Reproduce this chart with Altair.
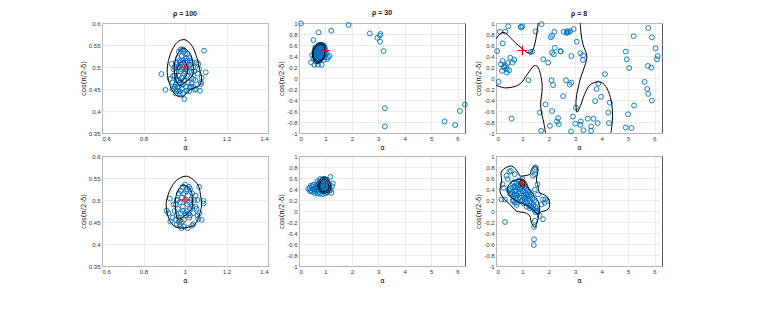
import altair as alt
import pandas as pd

# ---------------- data ----------------
titles = ["ρ = 100", "ρ = 30", "ρ = 8", "", "", ""]

ticks_a_small = [0.6, 0.8, 1, 1.2, 1.4]
ticks_c_small = [0.35, 0.4, 0.45, 0.5, 0.55, 0.6]
ticks_a_wide = [0, 1, 2, 3, 4, 5, 6]
ticks_c_wide = [-1, -0.8, -0.6, -0.4, -0.2, 0, 0.2, 0.4, 0.6, 0.8, 1]

true_alpha = [1.0]
true_cos = [0.5]

# panel 1 (rho = 100, top)
p1_alpha = [0.886, 1.092, 1.100, 0.906, 0.997, 1.072, 1.048, 1.077, 1.080, 1.068, 1.064, 1.000, 0.980, 0.935,
            0.927, 0.943, 0.951, 0.967, 0.975, 0.990, 1.008, 1.024, 1.032, 1.040, 1.032, 1.040, 1.024, 1.056,
            1.053, 1.076,
            0.96, 0.97, 0.975, 0.98, 0.985, 0.99, 0.995, 1.0, 1.005, 1.01, 1.015, 1.02, 0.965, 0.955, 0.97,
            0.96, 0.95, 0.945, 0.955, 0.965, 0.975, 0.985, 0.99, 1.0, 1.01, 1.02, 1.025, 1.03, 1.005, 0.985,
            0.975, 0.96, 0.95, 0.94, 0.97, 0.995, 1.01, 0.98, 0.99, 0.97, 0.98, 0.995, 1.015, 1.035, 1.045,
            1.05, 1.04, 0.95, 0.96, 0.985, 0.975, 1.0, 1.005, 0.99, 0.98, 1.06, 0.955, 0.94, 1.02, 1.03]
p1_cos = [0.484, 0.537, 0.488, 0.448, 0.427, 0.446, 0.448, 0.465, 0.476, 0.495, 0.507, 0.530, 0.511, 0.507,
          0.473, 0.480, 0.454, 0.446, 0.440, 0.440, 0.446, 0.454, 0.462, 0.473, 0.488, 0.499, 0.514, 0.510,
          0.450, 0.461,
          0.47, 0.48, 0.465, 0.49, 0.475, 0.50, 0.485, 0.51, 0.495, 0.515, 0.50, 0.52, 0.455, 0.46, 0.50,
          0.49, 0.48, 0.495, 0.51, 0.52, 0.515, 0.525, 0.46, 0.47, 0.48, 0.49, 0.505, 0.475, 0.455, 0.45,
          0.445, 0.445, 0.455, 0.465, 0.535, 0.535, 0.53, 0.505, 0.515, 0.47, 0.46, 0.47, 0.465, 0.51, 0.49,
          0.47, 0.455, 0.50, 0.505, 0.495, 0.50, 0.49, 0.52, 0.54, 0.54, 0.485, 0.44, 0.45, 0.445, 0.455]

# panel 2 (rho = 30, top)
p2_alpha = [0.076, 1.88, 1.22, 0.736, 0.545, 2.68, 3.085, 3.06, 2.97, 3.07, 3.2, 3.25, 3.25, 5.51, 5.91,
            6.09, 6.28,
            0.457, 0.58, 0.72, 0.86, 1.066, 1.16, 0.59, 0.9, 0.5, 0.55, 0.65, 1.05, 1.1, 0.62, 0.75, 0.95,
            0.60, 0.62, 0.64, 0.66, 0.68, 0.70, 0.72, 0.74, 0.76, 0.78, 0.80, 0.82, 0.84, 0.86, 0.88, 0.90,
            0.92, 0.94, 0.96, 0.98, 0.65, 0.70, 0.75, 0.80, 0.85, 0.90, 0.68, 0.72, 0.78, 0.84, 0.88, 0.92,
            0.96, 0.58, 0.60, 0.63, 0.67, 0.73, 0.77, 0.81, 0.85, 0.89, 0.93, 0.97, 0.83, 0.79, 0.71, 0.69,
            0.75, 0.87, 0.91, 0.95, 0.64, 0.62, 0.74, 0.82, 0.86, 0.99]
p2_cos = [0.99, 0.964, 0.86, 0.83, 0.69, 0.81, 0.80, 0.77, 0.73, 0.66, 0.49, -0.55, -0.88, -0.79, -0.855,
          -0.6, -0.48,
          0.285, 0.24, 0.24, 0.24, 0.345, 0.40, 0.5, 0.58, 0.42, 0.35, 0.3, 0.45, 0.38, 0.56, 0.6, 0.33,
          0.40, 0.45, 0.35, 0.42, 0.48, 0.38, 0.44, 0.52, 0.34, 0.46, 0.40, 0.55, 0.48, 0.42, 0.52, 0.46,
          0.56, 0.50, 0.44, 0.52, 0.50, 0.55, 0.58, 0.60, 0.60, 0.60, 0.32, 0.30, 0.32, 0.36, 0.38, 0.40,
          0.38, 0.44, 0.50, 0.54, 0.38, 0.40, 0.50, 0.45, 0.52, 0.44, 0.48, 0.56, 0.58, 0.54, 0.50, 0.44,
          0.45, 0.47, 0.52, 0.58, 0.47, 0.38, 0.36, 0.40, 0.56, 0.47]

# panel 3 (rho = 8, top)
p3_alpha = [0.04, 0.1, 0.15, 0.25, 0.35, 0.46, 0.19, 0.25, 0.23, 0.31, 0.375, 0.41, 0.44, 0.41, 0.5, 0.54,
            0.625, 0.69, 0.59, 0.94, 1.0, 1.375, 1.5, 1.225, 1.725, 1.79, 1.975, 1.66, 1.875, 1.71, 2.04,
            2.075, 2.125, 2.21, 2.225, 2.125, 2.19, 2.44, 2.45, 2.1, 2.16, 2.125, 2.35, 2.31, 2.375, 2.56,
            2.69, 2.71, 2.75, 2.81, 2.94, 2.85, 2.54, 2.65, 2.79, 2.85, 3.06, 3.19, 3.29, 3.29, 3.025, 2.91,
            3.0, 3.19, 3.21, 2.84, 3.31, 3.475, 3.69, 3.6, 3.6, 3.81, 3.875, 3.75, 3.975, 3.85, 4.125, 4.31,
            4.25, 4.275, 4.91, 4.95, 5.04, 5.21, 5.225, 5.0, 4.91, 5.125, 5.625, 5.725, 5.76, 5.75, 5.875,
            5.76, 5.9, 5.9, 6.04, 6.125, 6.09, 2.67, 0.95, 0.3, 1.3]
p3_cos = [0.49, -0.07, 0.84, 0.63, 0.84, 0.94, 0.25, 0.31, 0.13, 0.19, 0.22, 0.16, 0.27, 0.1, 0.14, 0.37,
          0.28, 0.33, -0.74, 0.93, 0.94, 0.48, 0.85, -0.04, 0.98, 0.34, 0.28, -0.63, -0.48, -0.96, -0.87,
          0.74, 0.77, 0.84, 0.55, 0.46, 0.43, 0.49, 0.48, -0.04, -0.13, -0.6, -0.73, -0.79, -0.84, 0.84,
          0.85, 0.83, 0.84, 0.85, 0.89, 0.4, -0.33, -0.04, -0.12, -0.085, 0.66, 0.45, 0.41, 0.33, -0.54,
          -0.70, -0.83, -0.85, -0.79, -0.97, -0.95, -0.74, -0.74, -0.96, -0.88, -0.2, -0.1, -0.42, -0.34,
          -0.82, 0.07, -0.45, -0.63, -0.82, 0.48, 0.34, 0.18, 0.76, -0.5, -0.66, -0.9, -0.91, -0.07, -0.2,
          -0.29, 0.22, 0.19, 0.91, 0.74, -0.41, 0.54, 0.4, 0.34, 0.82, 0.92, 0.21, 0.47]

# panel 4 (rho = 100, bottom)
p4_alpha = [0.927, 0.911, 0.930, 1.024, 1.068, 1.089, 1.089, 1.080, 1.064, 1.035, 1.013, 0.983, 0.975, 1.056,
            1.024, 1.016, 1.07, 1.05, 1.06, 0.94, 0.92, 1.04, 0.995, 0.96,
            0.96, 0.965, 0.97, 0.975, 0.98, 0.985, 0.99, 0.995, 1.0, 1.005, 1.01, 1.015, 1.02, 1.025, 1.03,
            1.035, 0.95, 0.955, 0.96, 0.97, 0.98, 0.99, 1.0, 1.01, 1.02, 0.975, 0.985, 0.995, 1.005, 1.01,
            1.04, 1.045, 1.05, 1.035, 0.965, 0.945, 0.955, 0.97, 1.0, 0.99, 1.02, 1.06]
p4_cos = [0.503, 0.476, 0.451, 0.525, 0.530, 0.498, 0.492, 0.455, 0.457, 0.442, 0.436, 0.436, 0.444, 0.480,
          0.465, 0.469, 0.47, 0.51, 0.50, 0.46, 0.47, 0.445, 0.44, 0.445,
          0.465, 0.48, 0.46, 0.495, 0.47, 0.505, 0.485, 0.515, 0.5, 0.52, 0.49, 0.51, 0.495, 0.48, 0.5,
          0.485, 0.475, 0.49, 0.5, 0.515, 0.52, 0.53, 0.535, 0.525, 0.53, 0.455, 0.45, 0.455, 0.465, 0.475,
          0.47, 0.5, 0.485, 0.515, 0.5, 0.49, 0.455, 0.45, 0.47, 0.475, 0.46, 0.465]

# panel 5 (rho = 30, bottom)
p5_alpha = [1.19, 1.28, 1.22, 1.15, 1.25, 1.2,
            0.40, 0.45, 0.50, 0.55, 0.60, 0.65, 0.70, 0.75, 0.80, 0.85, 0.90, 0.95, 1.00, 1.05, 1.10, 1.15,
            0.45, 0.55, 0.65, 0.75, 0.85, 0.95, 1.05, 1.12, 0.50, 0.60, 0.70, 0.80, 0.90, 1.00, 1.08, 0.62,
            0.72, 0.82, 0.92, 1.02, 1.1, 0.78, 0.88, 0.98, 1.06, 0.68, 0.58, 0.84, 0.94, 1.04, 1.14, 0.74,
            0.86, 0.96, 0.35, 0.42, 0.52, 0.9, 1.0, 0.8, 0.7]
p5_cos = [0.62, 0.5, 0.33, 0.42, 0.45, 0.38,
          0.42, 0.38, 0.45, 0.40, 0.36, 0.44, 0.40, 0.34, 0.46, 0.38, 0.42, 0.36, 0.44, 0.40, 0.46, 0.38,
          0.46, 0.48, 0.48, 0.50, 0.50, 0.52, 0.52, 0.5, 0.35, 0.32, 0.32, 0.31, 0.31, 0.32, 0.34, 0.42,
          0.44, 0.42, 0.46, 0.48, 0.42, 0.54, 0.56, 0.56, 0.56, 0.38, 0.40, 0.36, 0.4, 0.35, 0.48, 0.48,
          0.45, 0.48, 0.40, 0.36, 0.40, 0.58, 0.58, 0.58, 0.54]

# panel 6 (rho = 8, bottom)
p6_alpha = [0.34, 1.44, 1.43, 1.47, 1.5, 1.47, 1.4, 0.5, 0.56, 0.71, 0.25, 0.29, 0.21, 0.34, 0.4, 0.44,
            0.71, 0.78, 0.65, 1.59, 1.72, 1.78, 1.87, 1.94, 1.84, 1.78, 1.65, 1.47, 1.44, 1.53, 1.57, 1.47,
            0.55, 0.60, 0.65, 0.70, 0.70, 0.75, 0.78, 0.80, 0.82, 0.85, 0.88, 0.90, 0.92, 0.95, 0.98, 1.00,
            1.00, 1.02, 1.05, 1.05, 1.08, 1.10, 1.10, 1.12, 1.15, 1.18, 1.20, 1.22, 1.25, 1.25, 1.28, 1.30,
            1.32, 1.35, 1.38, 1.40, 1.42, 1.45, 1.48, 1.50, 1.52, 1.55, 0.62, 0.68, 0.72, 0.76, 0.84, 0.88,
            0.94, 0.96, 1.04, 1.08, 1.14, 1.16, 1.24, 1.34, 1.44, 0.58, 0.66, 0.74, 0.86, 0.92, 1.00, 1.12,
            0.48, 0.52, 0.64, 0.80, 1.18, 1.28]
p6_cos = [-0.2, -0.515, -0.62, 0.745, 0.79, 0.67, 0.64, 0.715, 0.73, 0.67, 0.485, 0.42, 0.21, 0.21, 0.64,
          0.58, 0.15, 0.11, 0.18, 0.3, 0.12, 0.21, 0.21, 0.18, 0.15, -0.15, -0.09, -0.18, -0.29, 0.0, 0.485,
          0.39,
          0.40, 0.35, 0.42, 0.30, 0.45, 0.38, 0.50, 0.28, 0.42, 0.35, 0.48, 0.25, 0.40, 0.32, 0.52, 0.20,
          0.45, 0.36, 0.28, 0.50, 0.42, 0.18, 0.33, 0.25, 0.40, 0.15, 0.30, 0.22, 0.10, 0.35, 0.18, 0.26,
          0.08, 0.15, 0.22, 0.05, 0.12, 0.02, 0.08, -0.02, 0.05, 0.00, 0.50, 0.52, 0.36, 0.24, 0.22, 0.32,
          0.44, 0.18, 0.14, 0.22, 0.30, 0.08, 0.28, 0.30, 0.18, 0.30, 0.26, 0.44, 0.55, 0.56, 0.58, 0.45,
          0.38, 0.32, 0.20, 0.15, 0.38, 0.05]

# contour lines (closed loops for panels 1, 2, 4, 5, 6; open curves for panel 3)
c1_alpha = [[1.0, 1.035, 1.058, 1.07, 1.08, 1.07, 1.04, 1.015, 0.99, 0.96, 0.935, 0.918, 0.915, 0.93, 0.96],
            [1.0, 1.028, 1.04, 1.035, 1.0, 0.975, 0.955, 0.948, 0.96, 0.98],
            [0.99, 1.012, 1.008, 0.985, 0.965, 0.962]]
c1_cos = [[0.562, 0.547, 0.52, 0.495, 0.475, 0.458, 0.452, 0.445, 0.433, 0.435, 0.45, 0.475, 0.5, 0.53, 0.555],
          [0.542, 0.528, 0.5, 0.48, 0.465, 0.458, 0.47, 0.5, 0.525, 0.54],
          [0.515, 0.5, 0.482, 0.468, 0.475, 0.495]]

c2_alpha = [[0.84, 0.95, 1.01, 1.01, 0.96, 0.86, 0.72, 0.6, 0.52, 0.51, 0.58, 0.7],
            [0.83, 0.93, 0.98, 0.98, 0.94, 0.85, 0.73, 0.62, 0.55, 0.54, 0.6, 0.7]]
c2_cos = [[0.64, 0.61, 0.55, 0.46, 0.38, 0.31, 0.27, 0.29, 0.37, 0.46, 0.56, 0.62],
          [0.61, 0.58, 0.53, 0.46, 0.39, 0.33, 0.3, 0.32, 0.38, 0.46, 0.54, 0.59]]

c3_alpha = [[0.0, 0.15, 0.3, 0.45, 0.65, 0.85, 1.05, 1.2, 1.35, 1.46, 1.54, 1.6],
            [0.0, 0.375, 0.875, 1.19, 1.44, 1.625, 1.75, 1.69, 1.81, 1.875],
            [3.19, 3.22, 3.3, 3.44, 3.36, 3.2, 3.1, 3.03, 3.06, 3.2, 3.35, 3.55, 3.85, 4.1, 4.3, 4.4, 4.4,
             4.35]]
c3_cos = [[0.71, 0.8, 0.83, 0.78, 0.68, 0.59, 0.51, 0.46, 0.47, 0.6, 0.8, 1.0],
          [-0.13, -0.18, -0.12, 0.07, 0.22, 0.16, -0.15, -0.51, -0.82, -1.0],
          [1.0, 0.8, 0.6, 0.4, 0.22, 0.0, -0.2, -0.4, -0.62, -0.5, -0.3, -0.13, -0.07, -0.12, -0.3, -0.55,
           -0.8, -1.0]]

c4_alpha = [[1.0, 1.032, 1.064, 1.075, 1.08, 1.065, 1.048, 1.015, 0.983, 0.95, 0.927, 0.912, 0.911, 0.93, 0.96],
            [0.997, 1.029, 1.035, 1.032, 1.0, 0.967, 0.955, 0.954, 0.97]]
c4_cos = [[0.554, 0.549, 0.533, 0.51, 0.487, 0.46, 0.445, 0.438, 0.436, 0.44, 0.453, 0.475, 0.498, 0.525, 0.545],
          [0.534, 0.521, 0.5, 0.48, 0.465, 0.457, 0.475, 0.502, 0.525]]

c5_alpha = [[0.95, 1.05, 1.15, 1.2, 1.17, 1.05, 0.9, 0.78, 0.72, 0.78, 0.87],
            [0.95, 1.03, 1.1, 1.13, 1.1, 1.0, 0.9, 0.81, 0.78, 0.82, 0.88]]
c5_cos = [[0.62, 0.6, 0.53, 0.45, 0.37, 0.33, 0.33, 0.37, 0.45, 0.55, 0.6],
          [0.58, 0.56, 0.5, 0.44, 0.38, 0.36, 0.36, 0.39, 0.45, 0.53, 0.57]]

c6_alpha = [[0.213, 0.589, 0.84, 0.927, 1.278, 1.34, 1.466, 1.59, 1.53, 1.59, 1.654, 1.905, 2.03, 1.967,
             1.654, 1.59, 1.53, 1.466, 1.34, 1.278, 1.09, 0.777, 0.526, 0.276, 0.15, 0.213],
            [0.464, 0.652, 0.965, 1.09, 1.216, 1.4, 1.59, 1.654, 1.59, 1.466, 1.216, 0.902, 0.589, 0.439],
            [0.86, 1.05, 1.06]]
c6_cos = [[0.727, 0.818, 0.697, 0.636, 0.667, 0.758, 0.818, 0.758, 0.576, 0.455, 0.333, 0.273, 0.152, 0.03,
           -0.03, -0.15, -0.24, -0.30, -0.21, -0.09, -0.03, 0.0, 0.12, 0.242, 0.364, 0.545],
          [0.455, 0.545, 0.576, 0.545, 0.424, 0.303, 0.182, 0.03, -0.06, 0.0, 0.09, 0.152, 0.242, 0.364],
          [0.5, 0.57, 0.44]]

# ---------------- chart ----------------
BLUE = "#0072BD"
PW, PH = 166, 110


def contour_df(cx, cy):
    rows = []
    for k, (xs, ys) in enumerate(zip(cx, cy)):
        for i, (a, b) in enumerate(zip(xs, ys)):
            rows.append({"a": a, "c": b, "k": k, "o": i})
    return pd.DataFrame(rows)


def panel(px, py, cx, cy, title, xdom, xt, ydom, yt, closed):
    xs = alt.Scale(domain=xdom, nice=False, zero=False)
    ys = alt.Scale(domain=ydom, nice=False, zero=False)
    xax = alt.Axis(values=xt, title="α", labelExpr="'' + datum.value", grid=True)
    yax = alt.Axis(values=yt, title="cos(π/2-δ)", labelExpr="'' + datum.value", grid=True)
    X = alt.X("a:Q", scale=xs, axis=xax, title="α")
    Y = alt.Y("c:Q", scale=ys, axis=yax, title="cos(π/2-δ)")
    pts = alt.Chart(pd.DataFrame({"a": px, "c": py})).mark_point(
        shape="circle", filled=False, size=24, strokeWidth=0.9, color=BLUE, opacity=1
    ).encode(x=X, y=Y)
    cont = alt.Chart(contour_df(cx, cy)).mark_line(
        color="black", strokeWidth=1, clip=True,
        interpolate="cardinal-closed" if closed else "cardinal"
    ).encode(x=X, y=Y, detail="k:N", order="o:Q")
    cross = alt.Chart(pd.DataFrame({"a": true_alpha, "c": true_cos})).mark_point(
        shape="M-1,0H1M0,-1V1", size=90, strokeWidth=1.1, color="#ff0000", stroke="#ff0000",
        filled=False, opacity=1
    ).encode(x=X, y=Y)
    ch = alt.layer(pts, cont, cross).properties(width=PW, height=PH)
    if title:
        ch = ch.properties(title=alt.TitleParams(title, fontSize=7, fontWeight="bold", offset=3,
                                                 font="Liberation Sans", color="#222"))
    return ch


SD = [0.6, 1.4]
SC = [0.35, 0.6]
WD = [0, 6.2832]
WC = [-1, 1]

charts = [
    panel(p1_alpha, p1_cos, c1_alpha, c1_cos, titles[0], SD, ticks_a_small, SC, ticks_c_small, True),
    panel(p2_alpha, p2_cos, c2_alpha, c2_cos, titles[1], WD, ticks_a_wide, WC, ticks_c_wide, True),
    panel(p3_alpha, p3_cos, c3_alpha, c3_cos, titles[2], WD, ticks_a_wide, WC, ticks_c_wide, False),
    panel(p4_alpha, p4_cos, c4_alpha, c4_cos, titles[3], SD, ticks_a_small, SC, ticks_c_small, True),
    panel(p5_alpha, p5_cos, c5_alpha, c5_cos, titles[4], WD, ticks_a_wide, WC, ticks_c_wide, True),
    panel(p6_alpha, p6_cos, c6_alpha, c6_cos, titles[5], WD, ticks_a_wide, WC, ticks_c_wide, True),
]

chart = alt.concat(*charts, columns=3, spacing={"row": 23, "column": 31}, bounds="flush").properties(
    padding={"left": 70, "top": 0, "right": 5, "bottom": 5},
    background="white",
).configure_view(stroke="#555555", strokeWidth=1).configure_axis(
    labelFontSize=6, labelColor="#333333", labelFont="Liberation Sans", labelPadding=2,
    titleFontSize=7, titleFontWeight="normal", titleColor="#222222", titleFont="DejaVu Sans",
    titlePadding=2, ticks=False, domain=False, gridColor="#e4e4e4", gridWidth=0.7,
)

chart.save("out.html", embed_options={"renderer": "svg", "actions": False})
